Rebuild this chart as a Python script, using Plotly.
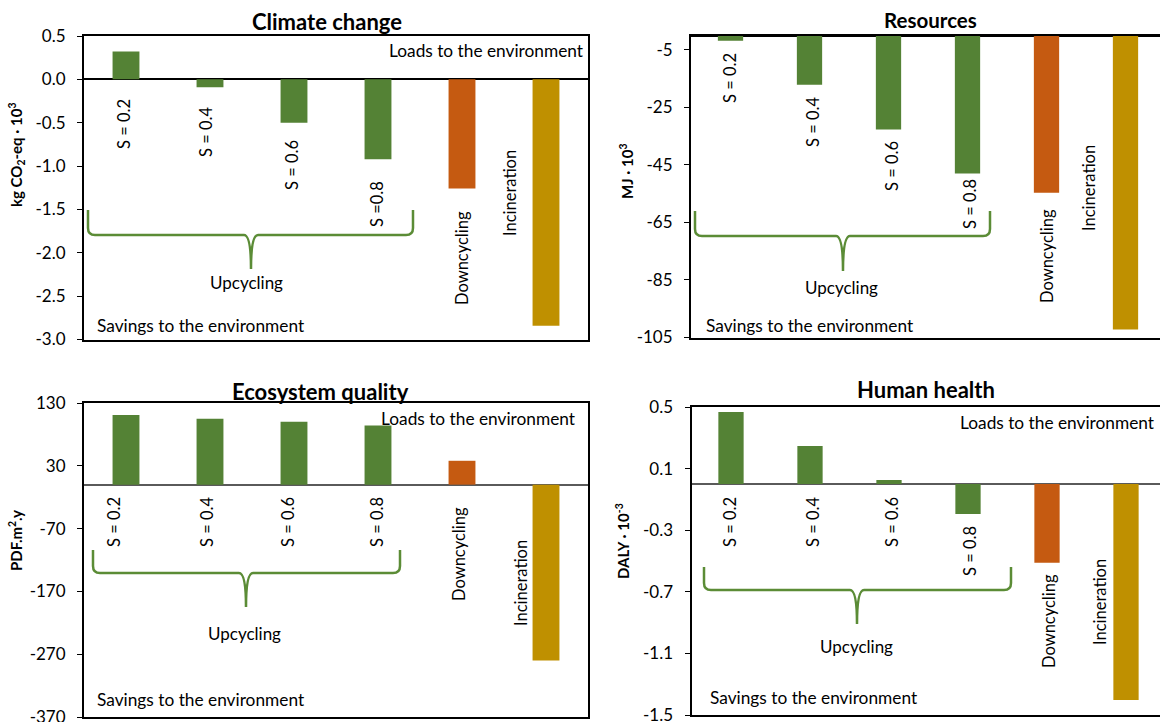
import plotly.graph_objects as go

W, H = 1160, 722
FONT = "Lato"

categories = ["S = 0.2", "S = 0.4", "S = 0.6", "S = 0.8", "Downcycling", "Incineration"]
bar_colors = ["#548235", "#548235", "#548235", "#548235", "#C55A11", "#BF9000"]

climate = [0.32, -0.09, -0.50, -0.92, -1.26, -2.84]
resources = [-1.8, -17.1, -32.7, -48.0, -54.7, -102.2]
ecosystem = [111, 105, 100, 94, 38, -280]
human = [0.467, 0.247, 0.026, -0.195, -0.511, -1.403]

climate_ticks = [0.5, 0.0, -0.5, -1.0, -1.5, -2.0, -2.5, -3.0]
resources_ticks = [-5, -25, -45, -65, -85, -105]
ecosystem_ticks = [130, 30, -70, -170, -270, -370]
human_ticks = [0.5, 0.1, -0.3, -0.7, -1.1, -1.5]

titles = ["Climate change", "Resources", "Ecosystem quality", "Human health"]
ytitles = ["kg CO<sub>2</sub>-eq · 10<sup>3</sup>", "MJ · 10<sup>3</sup>",
           "PDF.m<sup>2</sup>.y", "DALY · 10<sup>-3</sup>"]


def px(x):
    return x / W


def py(y):
    return 1 - y / H


# panel geometry in pixels: (x0, x1, y_top, y_bottom, category spacing)
panels = [
    dict(x0=84, x1=588, yt=36, yb=339.5, sp=84, vals=climate, ticks=climate_ticks,
         rng=[-3.0, 0.5], fmt="{:.1f}", zc="#000000"),
    dict(x0=691, x1=1160, yt=35.5, yb=337.5, sp=79, vals=resources, ticks=resources_ticks,
         rng=[-105, 0], fmt="{:d}", zc="#000000"),
    dict(x0=84, x1=588, yt=403, yb=717, sp=84, vals=ecosystem, ticks=ecosystem_ticks,
         rng=[-370, 130], fmt="{:d}", zc="#5A5A5A"),
    dict(x0=691.5, x1=1160, yt=407, yb=715, sp=79, vals=human, ticks=human_ticks,
         rng=[-1.5, 0.5], fmt="{:.1f}", zc="#5A5A5A"),
]

fig = go.Figure()
layout = dict(width=W, height=H, margin=dict(l=0, r=0, t=0, b=0, autoexpand=False),
              paper_bgcolor="white", plot_bgcolor="white", showlegend=False,
              bargap=0.68, font=dict(family=FONT, color="black"))

for i, p in enumerate(panels):
    n = "" if i == 0 else str(i + 1)
    fig.add_trace(go.Bar(x=categories, y=p["vals"], marker=dict(color=bar_colors, line=dict(width=0)),
                         xaxis="x" + n, yaxis="y" + n, hoverinfo="x+y"))
    span = (p["x1"] - p["x0"]) / p["sp"]
    layout["xaxis" + n] = dict(domain=[px(p["x0"]), px(p["x1"])], anchor="y" + n,
                               range=[-0.5, -0.5 + span], showticklabels=False, ticks="",
                               showline=True, mirror=True, linecolor="black", linewidth=2,
                               showgrid=False, zeroline=False, fixedrange=True, automargin=False)
    ticktext = [p["fmt"].format(t) for t in p["ticks"]]
    layout["yaxis" + n] = dict(domain=[py(p["yb"]), py(p["yt"])], anchor="x" + n,
                               range=p["rng"], tickvals=p["ticks"], ticktext=ticktext,
                               ticks="outside", ticklen=5, tickcolor="black", tickwidth=1,
                               ticklabelstandoff=8, ticklabeloverflow="allow",
                               tickfont=dict(family=FONT, size=17, color="black"),
                               showline=True, mirror=True, linecolor="black", linewidth=2,
                               showgrid=False, zeroline=True, zerolinecolor=p["zc"],
                               zerolinewidth=2, fixedrange=True, automargin=False)

fig.update_layout(**layout)

ann = []
# titles
title_pos = [(327, 21, 22), (930, 19.5, 20.5), (320, 391, 22), (926, 390, 22)]
for t, (x, y, s) in zip(titles, title_pos):
    ann.append(dict(text="<b>" + t + "</b>", x=px(x), y=py(y), xref="paper", yref="paper",
                    xanchor="center", yanchor="middle", showarrow=False,
                    font=dict(family=FONT, size=s, color="black")))
# y-axis titles
yt_pos = [(16, 155), (627, 171), (15, 541), (622, 541)]
for t, (x, y) in zip(ytitles, yt_pos):
    ann.append(dict(text="<b>" + t + "</b>", x=px(x), y=py(y), xref="paper", yref="paper",
                    xanchor="center", yanchor="middle", showarrow=False, textangle=-90,
                    font=dict(family=FONT, size=15, color="black")))
# rotated category labels
cat_pos = [
    [(124, 124), (206, 132), (292, 165), (377, 204), (462, 258), (510, 193)],
    [(730, 78), (813, 122), (892, 166), (970, 204), (1047, 256), (1089, 188)],
    [(114, 522), (207, 522), (288, 522), (377, 522), (459, 554), (521, 583)],
    [(730, 522), (813, 522), (892, 522), (970, 551), (1049, 621), (1100, 602)],
]
for pi, plist in enumerate(cat_pos):
    for ci, (x, y) in enumerate(plist):
        txt = categories[ci]
        if pi == 0 and ci == 3:
            txt = "S =0.8"
        ann.append(dict(text=txt, x=px(x), y=py(y), xref="paper", yref="paper",
                        xanchor="center", yanchor="middle", showarrow=False, textangle=-90,
                        font=dict(family=FONT, size=16.5, color="black")))
# loads / savings
for (x, y) in [(586, 50), (578, 418), (1157, 422)]:
    ann.append(dict(text="Loads to the environment", x=px(x), y=py(y), xref="paper", yref="paper",
                    xanchor="right", yanchor="middle", showarrow=False,
                    font=dict(family=FONT, size=17.3, color="black")))
for (x, y) in [(95, 325), (704, 325), (95, 699), (708, 697)]:
    ann.append(dict(text="Savings to the environment", x=px(x), y=py(y), xref="paper", yref="paper",
                    xanchor="left", yanchor="middle", showarrow=False,
                    font=dict(family=FONT, size=17.3, color="black")))
# upcycling
for (x, y) in [(246, 283), (841, 287), (244, 633), (856, 646)]:
    ann.append(dict(text="Upcycling", x=px(x), y=py(y), xref="paper", yref="paper",
                    xanchor="center", yanchor="middle", showarrow=False,
                    font=dict(family=FONT, size=17, color="black")))

# braces (x_left, x_right, y_top, y_horizontal, x_center, y_tip)
braces = [(88, 413, 210, 235, 251, 269), (695, 990, 211, 236, 843, 271),
          (93, 400, 550, 573, 246, 607), (704, 1011, 567, 590, 857, 624)]
shapes = []
for (xl, xr, yt, yh, xc, ytip) in braces:
    r = 7

    def P(x, y):
        return f"{px(x):.5f},{py(y):.5f}"
    path = (f"M {P(xl, yt)} L {P(xl, yh - r)} Q {P(xl, yh)} {P(xl + r, yh)} "
            f"L {P(xc - r, yh)} Q {P(xc, yh)} {P(xc, ytip)} "
            f"M {P(xc, ytip)} Q {P(xc, yh)} {P(xc + r, yh)} "
            f"L {P(xr - r, yh)} Q {P(xr, yh)} {P(xr, yh - r)} L {P(xr, yt)}")
    shapes.append(dict(type="path", path=path, xref="paper", yref="paper",
                       line=dict(color="#5B8C36", width=2.5)))

fig.update_layout(annotations=ann, shapes=shapes)
fig.write_html("out.html", config={"displayModeBar": False},
               post_script="document.body.style.margin='0';document.body.style.overflow='hidden';")
